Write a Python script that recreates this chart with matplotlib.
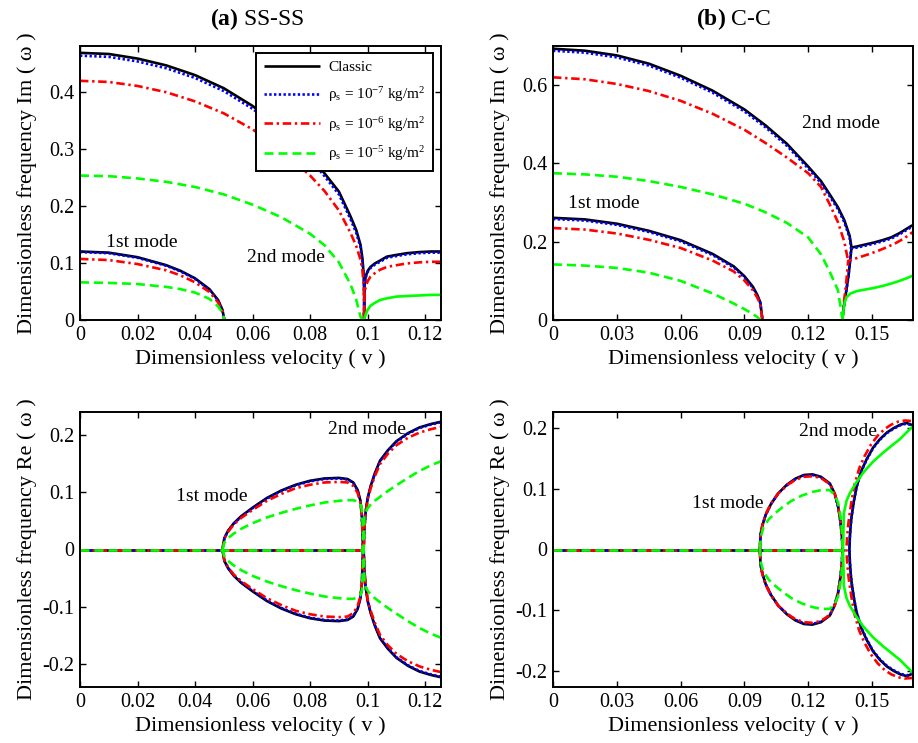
import matplotlib

matplotlib.use("Agg")
import matplotlib.pyplot as plt

plt.rcParams["font.family"] = ["Liberation Serif", "DejaVu Serif"]
plt.rcParams["mathtext.fontset"] = "custom"
plt.rcParams["mathtext.rm"] = "Liberation Serif"
plt.rcParams["mathtext.it"] = "Liberation Serif:italic"
plt.rcParams["mathtext.bf"] = "Liberation Serif:bold"

SERIES = ["classic", "r7", "r6", "r5"]
SERIES_LABELS = [
    "Classic",
    r"ρ$_\mathrm{s}$ = 10$^{-7}$ kg/m$^2$",
    r"ρ$_\mathrm{s}$ = 10$^{-6}$ kg/m$^2$",
    r"ρ$_\mathrm{s}$ = 10$^{-5}$ kg/m$^2$",
]

# ---- (a) SS-SS, imaginary part ----
SS_IM_MODE1_V = [0, 0.01, 0.02, 0.03, 0.035, 0.04, 0.045, 0.048, 0.0495, 0.0502]
SS_IM_MODE1 = {
    "classic": [0.120, 0.118, 0.110, 0.096, 0.086, 0.073, 0.054, 0.035, 0.018, 0.0],
    "r7": [0.119, 0.117, 0.109, 0.095, 0.085, 0.072, 0.053, 0.034, 0.017, 0.0],
    "r6": [0.107, 0.105, 0.098, 0.087, 0.078, 0.066, 0.049, 0.031, 0.016, 0.0],
    "r5": [0.066, 0.065, 0.063, 0.058, 0.054, 0.048, 0.037, 0.024, 0.013, 0.0],
}
SS_IM_MODE2_V = [0, 0.01, 0.02, 0.03, 0.04, 0.05, 0.06, 0.07, 0.08, 0.085, 0.09,
                 0.094, 0.096, 0.0975, 0.0982, 0.0987, 0.0989]
SS_IM_MODE2 = {
    "classic": [0.468, 0.466, 0.458, 0.446, 0.429, 0.406, 0.375, 0.336, 0.287, 0.257, 0.225,
                0.182, 0.158, 0.132, 0.107, 0.072, 0.0],
    "r7": [0.463, 0.461, 0.453, 0.441, 0.424, 0.401, 0.370, 0.331, 0.282, 0.252, 0.220,
           0.177, 0.153, 0.128, 0.103, 0.069, 0.0],
    "r6": [0.419, 0.417, 0.410, 0.399, 0.383, 0.362, 0.334, 0.298, 0.253, 0.226, 0.192,
           0.153, 0.130, 0.106, 0.086, 0.056, 0.0],
    "r5": [0.253, 0.252, 0.248, 0.242, 0.233, 0.220, 0.202, 0.180, 0.151, 0.131, 0.101,
           0.063, 0.036, 0.006, 0.0, 0.0, 0.0],
}
SS_IM_ZERO = [0.0502, 0.0988]
SS_IM_FLUTTER_V = [0.0987, 0.0989, 0.0993, 0.1, 0.101, 0.1025, 0.1043, 0.1067, 0.11,
                   0.1136, 0.118, 0.122, 0.1255]
SS_IM_FLUTTER = {
    "classic": [0.0, 0.060, 0.076, 0.086, 0.093, 0.099, 0.104, 0.111, 0.114, 0.117, 0.119, 0.120, 0.120],
    "r7": [0.0, 0.058, 0.074, 0.084, 0.091, 0.097, 0.102, 0.109, 0.112, 0.115, 0.117, 0.118, 0.118],
    "r6": [0.0, 0.045, 0.058, 0.068, 0.076, 0.082, 0.088, 0.093, 0.096, 0.099, 0.101, 0.102, 0.102],
    "r5": [0.0, 0.003, 0.009, 0.018, 0.025, 0.030, 0.035, 0.038, 0.041, 0.042, 0.043, 0.044, 0.044],
}

# ---- (a) SS-SS, real part ----
SS_RE_ZERO = [0, 0.0987]
SS_RE_LOOP_V = [0.0495, 0.0502, 0.0515, 0.0535, 0.056, 0.06, 0.065, 0.07, 0.075, 0.08,
                0.085, 0.09, 0.093, 0.095, 0.0965, 0.0975, 0.098, 0.0984]
SS_RE_LOOP = {
    "classic": [0.0, 0.020, 0.033, 0.046, 0.058, 0.073, 0.090, 0.103, 0.113, 0.120, 0.124,
                0.125, 0.123, 0.117, 0.104, 0.085, 0.060, 0.0],
    "r7": [0.0, 0.020, 0.032, 0.045, 0.057, 0.072, 0.089, 0.102, 0.112, 0.119, 0.123,
           0.124, 0.122, 0.116, 0.103, 0.084, 0.059, 0.0],
    "r6": [0.0, 0.019, 0.031, 0.044, 0.055, 0.069, 0.085, 0.097, 0.107, 0.113, 0.117,
           0.118, 0.117, 0.111, 0.099, 0.081, 0.057, 0.0],
    "r5": [0.0, 0.012, 0.020, 0.028, 0.036, 0.046, 0.056, 0.064, 0.071, 0.077, 0.082,
           0.085, 0.086, 0.086, 0.084, 0.080, 0.070, 0.030],
}
SS_RE_FLUTTER_V = [0.0986, 0.0989, 0.0993, 0.1, 0.101, 0.1025, 0.1043, 0.107, 0.11,
                   0.114, 0.118, 0.122, 0.1255]
SS_RE_FLUTTER = {
    "classic": [0.0, 0.040, 0.065, 0.090, 0.110, 0.133, 0.155, 0.173, 0.189, 0.203, 0.213, 0.219, 0.223],
    "r7": [0.0, 0.040, 0.064, 0.089, 0.109, 0.132, 0.154, 0.172, 0.188, 0.202, 0.212, 0.218, 0.222],
    "r6": [0.0, 0.039, 0.063, 0.087, 0.106, 0.128, 0.149, 0.167, 0.182, 0.195, 0.204, 0.210, 0.214],
    "r5": [0.0, 0.060, 0.065, 0.072, 0.078, 0.085, 0.092, 0.102, 0.112, 0.125, 0.137, 0.147, 0.154],
}

# ---- (b) C-C, imaginary part ----
CC_IM_MODE1_V = [0, 0.015, 0.03, 0.045, 0.06, 0.075, 0.085, 0.09, 0.094, 0.096, 0.0975, 0.0985]
CC_IM_MODE1 = {
    "classic": [0.261, 0.257, 0.246, 0.228, 0.204, 0.169, 0.137, 0.112, 0.085, 0.065, 0.045, 0.0],
    "r7": [0.258, 0.254, 0.243, 0.225, 0.201, 0.166, 0.134, 0.109, 0.082, 0.062, 0.043, 0.0],
    "r6": [0.235, 0.231, 0.221, 0.205, 0.184, 0.152, 0.124, 0.101, 0.076, 0.058, 0.040, 0.0],
    "r5": [0.142, 0.139, 0.133, 0.121, 0.100, 0.068, 0.042, 0.028, 0.015, 0.008, 0.0, 0.0],
}
CC_IM_MODE2_V = {
    "classic": [0, 0.015, 0.03, 0.045, 0.06, 0.075, 0.09, 0.1, 0.11, 0.12, 0.126, 0.13,
                0.134, 0.137, 0.1395, 0.1404],
    "r7": [0, 0.015, 0.03, 0.045, 0.06, 0.075, 0.09, 0.1, 0.11, 0.12, 0.126, 0.13,
           0.134, 0.137, 0.1395, 0.1402],
    "r6": [0, 0.015, 0.03, 0.045, 0.06, 0.075, 0.09, 0.1, 0.11, 0.12, 0.126, 0.13,
           0.134, 0.137, 0.1388],
    "r5": [0, 0.015, 0.03, 0.045, 0.06, 0.075, 0.09, 0.1, 0.11, 0.12, 0.126, 0.13,
           0.134, 0.1362],
}
CC_IM_MODE2 = {
    "classic": [0.693, 0.688, 0.676, 0.655, 0.624, 0.586, 0.538, 0.497, 0.450, 0.392, 0.355,
                0.322, 0.288, 0.255, 0.215, 0.185],
    "r7": [0.688, 0.683, 0.671, 0.650, 0.619, 0.581, 0.533, 0.492, 0.445, 0.387, 0.350,
           0.317, 0.283, 0.250, 0.210, 0.182],
    "r6": [0.620, 0.615, 0.603, 0.585, 0.560, 0.527, 0.486, 0.452, 0.415, 0.375, 0.340,
           0.297, 0.250, 0.200, 0.151],
    "r5": [0.375, 0.372, 0.366, 0.355, 0.340, 0.321, 0.297, 0.275, 0.248, 0.211, 0.168,
           0.125, 0.076, 0.0],
}
CC_IM_ZERO = [0.0985, 0.1362]
CC_IM_FLUTTER_V = {
    "classic": [0.136, 0.1368, 0.1378, 0.139, 0.1404, 0.143, 0.147, 0.151, 0.155, 0.159,
                0.163, 0.166, 0.169],
    "r7": [0.136, 0.1368, 0.1378, 0.139, 0.1402, 0.143, 0.147, 0.151, 0.155, 0.159,
           0.163, 0.166, 0.169],
    "r6": [0.136, 0.1368, 0.1378, 0.1388, 0.141, 0.145, 0.149, 0.153, 0.157, 0.161,
           0.165, 0.169],
    "r5": [0.1362, 0.1366, 0.1372, 0.138, 0.14, 0.143, 0.147, 0.151, 0.155, 0.159,
           0.163, 0.166, 0.169],
}
CC_IM_FLUTTER = {
    "classic": [0.0, 0.035, 0.070, 0.115, 0.185, 0.188, 0.193, 0.198, 0.204, 0.211, 0.222, 0.232, 0.242],
    "r7": [0.0, 0.035, 0.070, 0.113, 0.182, 0.185, 0.190, 0.195, 0.201, 0.208, 0.219, 0.229, 0.239],
    "r6": [0.0, 0.045, 0.090, 0.151, 0.155, 0.162, 0.169, 0.177, 0.186, 0.196, 0.208, 0.224],
    "r5": [0.0, 0.025, 0.045, 0.058, 0.068, 0.074, 0.078, 0.082, 0.087, 0.093, 0.100, 0.106, 0.113],
}

# ---- (b) C-C, real part ----
CC_RE_ZERO = [0, 0.137]
CC_RE_LOOP_V = {
    "classic": [0.0973, 0.0976, 0.0985, 0.1, 0.1025, 0.106, 0.11, 0.114, 0.118, 0.122, 0.126,
                0.1302, 0.1325, 0.1341, 0.1352, 0.1358, 0.1362],
    "r7": [0.0973, 0.0976, 0.0985, 0.1, 0.1025, 0.106, 0.11, 0.114, 0.118, 0.122, 0.126,
           0.1302, 0.1325, 0.1341, 0.1352, 0.1358, 0.1362],
    "r6": [0.0973, 0.0976, 0.0985, 0.1, 0.1025, 0.106, 0.11, 0.114, 0.118, 0.122, 0.126,
           0.1302, 0.1325, 0.1341, 0.1352, 0.1358, 0.1362],
    "r5": [0.0973, 0.0978, 0.099, 0.1015, 0.1045, 0.108, 0.112, 0.117, 0.122, 0.126, 0.1302,
           0.1325, 0.1341, 0.1352, 0.1358, 0.1362],
}
CC_RE_LOOP = {
    "classic": [0.0, 0.025, 0.040, 0.057, 0.075, 0.093, 0.107, 0.117, 0.123, 0.124, 0.120,
                0.109, 0.092, 0.071, 0.045, 0.025, 0.0],
    "r7": [0.0, 0.025, 0.040, 0.057, 0.075, 0.093, 0.106, 0.116, 0.122, 0.123, 0.119,
           0.108, 0.091, 0.070, 0.045, 0.025, 0.0],
    "r6": [0.0, 0.026, 0.041, 0.058, 0.076, 0.093, 0.106, 0.115, 0.120, 0.121, 0.118,
           0.108, 0.092, 0.072, 0.046, 0.026, 0.0],
    "r5": [0.0, 0.022, 0.037, 0.050, 0.060, 0.070, 0.080, 0.089, 0.095, 0.098, 0.098,
           0.090, 0.077, 0.055, 0.035, 0.0],
}
CC_RE_FLUTTER_V = {
    "classic": [0.1394, 0.1396, 0.14, 0.1404, 0.1415, 0.1428, 0.145, 0.1475, 0.1505, 0.1537,
                0.157, 0.16, 0.1633, 0.1663, 0.1692],
    "r7": [0.1394, 0.1396, 0.14, 0.1404, 0.1415, 0.1428, 0.145, 0.1475, 0.1505, 0.1537,
           0.157, 0.16, 0.1633, 0.1663, 0.1692],
    "r6": [0.138, 0.1383, 0.1388, 0.1393, 0.1405, 0.1418, 0.144, 0.1465, 0.1495, 0.1527,
           0.156, 0.159, 0.1623, 0.1655, 0.1692],
    "r5": [0.1364, 0.1366, 0.1368, 0.138, 0.1396, 0.1425, 0.1459, 0.1505, 0.1553, 0.1595,
           0.1631, 0.1665, 0.1694],
}
CC_RE_FLUTTER = {
    "classic": [0.0, 0.020, 0.040, 0.054, 0.080, 0.104, 0.130, 0.149, 0.168, 0.182, 0.193,
                0.200, 0.206, 0.209, 0.205],
    "r7": [0.0, 0.020, 0.040, 0.054, 0.080, 0.103, 0.129, 0.148, 0.167, 0.181, 0.192,
           0.199, 0.205, 0.208, 0.204],
    "r6": [0.0, 0.020, 0.040, 0.054, 0.082, 0.107, 0.134, 0.154, 0.173, 0.188, 0.199,
           0.206, 0.211, 0.213, 0.212],
    "r5": [0.0, 0.030, 0.060, 0.080, 0.093, 0.110, 0.127, 0.145, 0.160, 0.172, 0.182,
           0.194, 0.204],
}

SS_XTICKS = [0, 0.02, 0.04, 0.06, 0.08, 0.1, 0.12]
SS_XTICK_LABELS = ["0", "0.02", "0.04", "0.06", "0.08", "0.1", "0.12"]
CC_XTICKS = [0, 0.03, 0.06, 0.09, 0.12, 0.15]
CC_XTICK_LABELS = ["0", "0.03", "0.06", "0.09", "0.12", "0.15"]
SS_IM_YTICKS = [0, 0.1, 0.2, 0.3, 0.4]
SS_IM_YTICK_LABELS = ["0", "0.1", "0.2", "0.3", "0.4"]
CC_IM_YTICKS = [0, 0.2, 0.4, 0.6]
CC_IM_YTICK_LABELS = ["0", "0.2", "0.4", "0.6"]
RE_YTICKS = [-0.2, -0.1, 0, 0.1, 0.2]
RE_YTICK_LABELS = ["-0.2", "-0.1", "0", "0.1", "0.2"]

COLORS = {"classic": "#000000", "r7": "#0000ff", "r6": "#ff0000", "r5": "#00ff00"}
DASHES = {"r7": (0.9, 0.9), "r6": (3.2, 1.4, 0.9, 1.4), "r5": (3.4, 1.9)}
LINE_WIDTH = 1.9


def _style(key, solid=False):
    style = dict(color=COLORS[key], lw=LINE_WIDTH, solid_capstyle="butt", dash_capstyle="butt")
    if key != "classic" and not solid:
        style["dashes"] = DASHES[key]
    return style


def _closed_loop(v, y):
    # upper branch out and the mirrored lower branch back
    return list(v) + list(v)[::-1], list(y) + [-value for value in y[::-1]]


def _both_signs(v, y):
    return list(v)[::-1] + list(v), [-value for value in y[::-1]] + list(y)


def _format_axis(axis, xlim, ylim, xticks, xlabels, yticks, ylabels, ylabel):
    axis.set_xlim(*xlim)
    axis.set_ylim(*ylim)
    axis.set_xticks(xticks)
    axis.set_xticklabels(xlabels)
    axis.set_yticks(yticks)
    axis.set_yticklabels(ylabels)
    axis.tick_params(direction="in", top=True, right=True, length=4, width=1.0,
                     labelsize=14.5, pad=4)
    for spine in axis.spines.values():
        spine.set_linewidth(1.4)
    axis.set_xlabel("Dimensionless velocity ( v )", fontsize=16)
    axis.xaxis.set_label_coords(0.5, -0.105)
    axis.set_ylabel(ylabel, fontsize=16)
    axis.yaxis.set_label_coords(-0.12, 0.5)


figure = plt.figure(figsize=(9.18, 7.43), dpi=100)
ax_ss_im = figure.add_axes([80 / 918, 1 - 320 / 743, 361 / 918, 274 / 743])
ax_cc_im = figure.add_axes([553 / 918, 1 - 320 / 743, 360 / 918, 274 / 743])
ax_ss_re = figure.add_axes([80 / 918, 1 - 687 / 743, 361 / 918, 275 / 743])
ax_cc_re = figure.add_axes([553 / 918, 1 - 687 / 743, 360 / 918, 275 / 743])

legend_handles = []
for key in SERIES:
    solid_flutter = key == "r5"

    # (a) imaginary part
    handle, = ax_ss_im.plot(SS_IM_MODE1_V, SS_IM_MODE1[key], **_style(key))
    legend_handles.append(handle)
    ax_ss_im.plot(SS_IM_MODE2_V, SS_IM_MODE2[key], **_style(key))
    ax_ss_im.plot(SS_IM_ZERO, [0, 0], **_style(key))
    ax_ss_im.plot(SS_IM_FLUTTER_V, SS_IM_FLUTTER[key], **_style(key, solid_flutter))

    # (a) real part
    ax_ss_re.plot(SS_RE_ZERO, [0, 0], **_style(key))
    ax_ss_re.plot(*_closed_loop(SS_RE_LOOP_V, SS_RE_LOOP[key]), **_style(key))
    ax_ss_re.plot(*_both_signs(SS_RE_FLUTTER_V, SS_RE_FLUTTER[key]), **_style(key))

    # (b) imaginary part
    ax_cc_im.plot(CC_IM_MODE1_V, CC_IM_MODE1[key], **_style(key))
    ax_cc_im.plot(CC_IM_MODE2_V[key], CC_IM_MODE2[key], **_style(key))
    ax_cc_im.plot(CC_IM_ZERO, [0, 0], **_style(key))
    ax_cc_im.plot(CC_IM_FLUTTER_V[key], CC_IM_FLUTTER[key], **_style(key, solid_flutter))

    # (b) real part
    ax_cc_re.plot(CC_RE_ZERO, [0, 0], **_style(key))
    ax_cc_re.plot(*_closed_loop(CC_RE_LOOP_V[key], CC_RE_LOOP[key]), **_style(key))
    ax_cc_re.plot(*_both_signs(CC_RE_FLUTTER_V[key], CC_RE_FLUTTER[key]),
                  **_style(key, solid_flutter))

_format_axis(ax_ss_im, (0, 0.1255), (0, 0.48), SS_XTICKS, SS_XTICK_LABELS,
             SS_IM_YTICKS, SS_IM_YTICK_LABELS, "Dimensionless frequency Im ( ω )")
_format_axis(ax_cc_im, (0, 0.1693), (0, 0.7), CC_XTICKS, CC_XTICK_LABELS,
             CC_IM_YTICKS, CC_IM_YTICK_LABELS, "Dimensionless frequency Im ( ω )")
_format_axis(ax_ss_re, (0, 0.1255), (-0.24, 0.24), SS_XTICKS, SS_XTICK_LABELS,
             RE_YTICKS, RE_YTICK_LABELS, "Dimensionless frequency Re ( ω )")
_format_axis(ax_cc_re, (0, 0.1693), (-0.227, 0.227), CC_XTICKS, CC_XTICK_LABELS,
             RE_YTICKS, RE_YTICK_LABELS, "Dimensionless frequency Re ( ω )")

ax_ss_im.text(0.49, 1.1, r"$\mathbf{(a)}$ SS-SS", transform=ax_ss_im.transAxes,
              ha="center", va="center", fontsize=17)
ax_cc_im.text(0.5, 1.1, r"$\mathbf{(b)}$ C-C", transform=ax_cc_im.transAxes,
              ha="center", va="center", fontsize=17)

ax_ss_im.text(0.0216, 0.135, "1st mode", ha="center", va="center", fontsize=14)
ax_ss_im.text(0.0716, 0.110, "2nd mode", ha="center", va="center", fontsize=14)
ax_cc_im.text(0.024, 0.297, "1st mode", ha="center", va="center", fontsize=14)
ax_cc_im.text(0.1354, 0.503, "2nd mode", ha="center", va="center", fontsize=14)
ax_ss_re.text(0.0459, 0.092, "1st mode", ha="center", va="center", fontsize=14)
ax_ss_re.text(0.0997, 0.210, "2nd mode", ha="center", va="center", fontsize=14)
ax_cc_re.text(0.0823, 0.076, "1st mode", ha="center", va="center", fontsize=14)
ax_cc_re.text(0.1338, 0.195, "2nd mode", ha="center", va="center", fontsize=14)

legend = ax_ss_im.legend(legend_handles, SERIES_LABELS, loc="upper right",
                         bbox_to_anchor=(0.978, 0.974), borderaxespad=0, fontsize=11,
                         handlelength=3.7, handletextpad=0.5, labelspacing=0.7,
                         fancybox=False, framealpha=1, edgecolor="black",
                         borderpad=0.5)
legend.get_frame().set_linewidth(1.4)

figure.savefig("out.png", dpi=100)
plt.close(figure)
